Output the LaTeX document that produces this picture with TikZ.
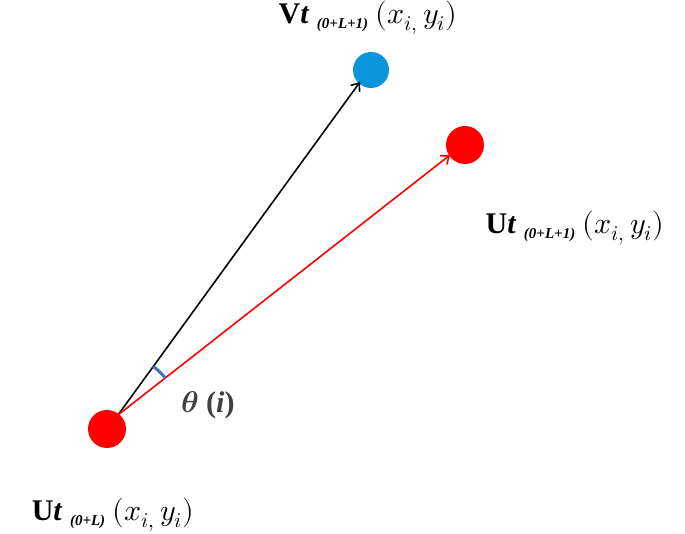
\documentclass[tikz,border=0pt]{standalone}
\usetikzlibrary{arrows.meta}
\usepackage{fontspec}
\setmainfont{Liberation Serif}
\usepackage{unicode-math}
\setmathfont{Latin Modern Math}
\begin{document}
\begin{tikzpicture}[x=1pt,y=-1pt,
  dot/.style={circle,inner sep=0pt,minimum size=#1},
  lbl/.style={font=\fontsize{30}{34}\selectfont,inner sep=0pt},
  sub/.style={},
  arr/.style={line width=1.6pt,-{Straight Barb[length=7pt,width=11pt]}}]
\useasboundingbox (0,0) rectangle (685,534);
\node[dot=38pt,fill=red] (A) at (107,429) {};
\node[dot=36pt,fill=cyan!80!blue] (B) at (371,70) {};
\node[dot=38pt,fill=red] (C) at (465,145) {};
\coordinate (O) at (118,415);
\coordinate (Bt) at (360,82);
\coordinate (Ct) at (450,155);
\draw[arr,black] (O) -- (Bt);
\draw[arr,red] (O) -- (Ct);
\draw[line width=3pt,color={rgb,255:red,68;green,114;blue,196}] (O) ++(-54:60) arc[start angle=-54,end angle=-38,radius=60];
\node[lbl,text=black!75,font=\fontsize{30}{34}\selectfont\bfseries] (T) at (208,405) {$\symbfit{\theta}$ (\textit{i})};
\node[lbl] (LB) at (368,18) {\textbf{V\textit{t}} {\fontsize{15}{16}\selectfont\bfseries\itshape\raisebox{-5pt}{(0+L+1)}} $(x_{i,}\,y_i)$};
\node[lbl] (LC) at (575,228) {\textbf{U\textit{t}} {\fontsize{15}{16}\selectfont\bfseries\itshape\raisebox{-5pt}{(0+L+1)}} $(x_{i,}\,y_i)$};
\node[lbl] (LA) at (113,515) {\textbf{U\textit{t}} {\fontsize{15}{16}\selectfont\bfseries\itshape\raisebox{-5pt}{(0+L)}} $(x_{i,}\,y_i)$};
\end{tikzpicture}
\end{document}
